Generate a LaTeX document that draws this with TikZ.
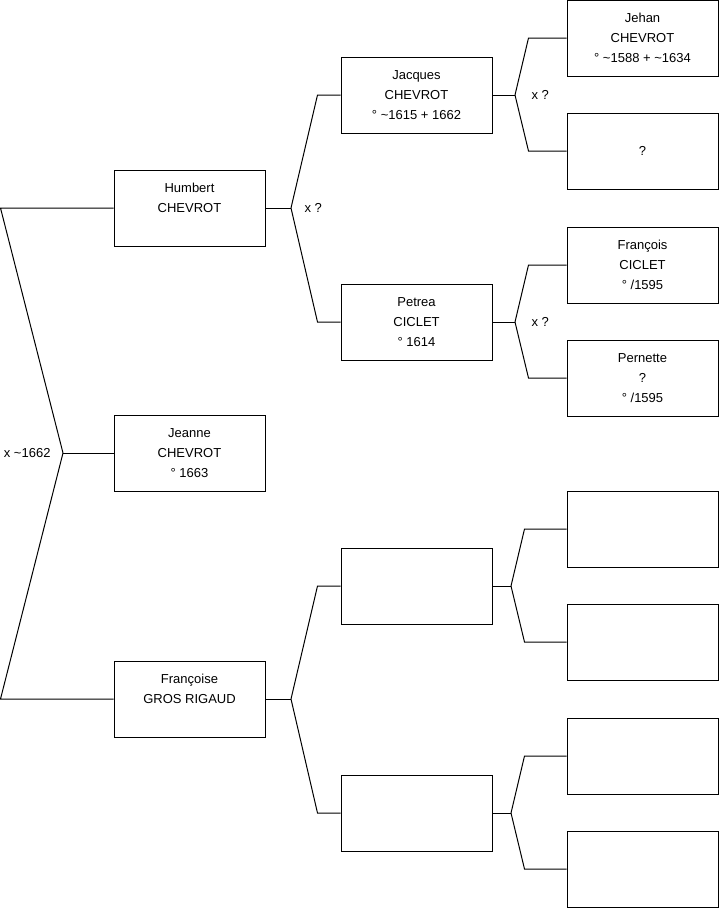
\documentclass[tikz,border=0pt]{standalone}
\usepackage{fontspec}
\setmainfont{Liberation Sans}
\usetikzlibrary{positioning}

\begin{document}
\begin{tikzpicture}[x=1pt, y=-1pt, line width=1pt]
  \tikzstyle{person}=[draw, rectangle, minimum width=151pt, minimum height=76pt, align=center, inner sep=0pt, font=\fontsize{13}{20}\selectfont]
  \tikzstyle{union}=[inner sep=0pt, font=\fontsize{13}{20}\selectfont]
  \useasboundingbox (0,0) rectangle (719,908);
  % generation 1
  \node[person] (humbert) at (189.5,208) {Humbert\\CHEVROT\\\mbox{}};
  \node[person] (jeanne) at (189.5,453) {Jeanne\\CHEVROT\\° 1663};
  \node[person] (francoise) at (189.5,699) {Françoise\\GROS RIGAUD\\\mbox{}};
  % generation 2
  \node[person] (jacques) at (416.5,95) {Jacques\\CHEVROT\\° \textasciitilde1615 + 1662};
  \node[person] (petrea) at (416.5,322) {Petrea\\CICLET\\° 1614};
  \node[person] (mother1) at (416.5,586) {};
  \node[person] (mother2) at (416.5,813) {};
  % generation 3
  \node[person] (jehan) at (642.5,38) {Jehan\\CHEVROT\\° \textasciitilde1588 + \textasciitilde1634};
  \node[person] (unknown) at (642.5,151) {?};
  \node[person] (francois) at (642.5,265) {François\\CICLET\\° /1595};
  \node[person] (pernette) at (642.5,378) {Pernette\\?\\° /1595};
  \node[person] (gp1) at (642.5,529) {};
  \node[person] (gp2) at (642.5,642) {};
  \node[person] (gp3) at (642.5,756) {};
  \node[person] (gp4) at (642.5,869) {};
  % forks
  \coordinate (root) at (63,453);
  \coordinate (fh) at (291,208);
  \coordinate (ff) at (291,699);
  \coordinate (fj) at (515,95);
  \coordinate (fp) at (515,322);
  \coordinate (fm1) at (511,586);
  \coordinate (fm2) at (511,813);
  \draw (humbert.west) -- ++(-113,0) -- (root);
  \draw (francoise.west) -- ++(-113,0) -- (root);
  \draw (jeanne) -- (root);
  \draw (humbert) -- (fh);
  \draw (jacques.west) -- ++(-23,0) -- (fh);
  \draw (petrea.west) -- ++(-23,0) -- (fh);
  \draw (francoise) -- (ff);
  \draw (mother1.west) -- ++(-23,0) -- (ff);
  \draw (mother2.west) -- ++(-23,0) -- (ff);
  \draw (jacques) -- (fj);
  \draw (jehan.west) -- ++(-38,0) -- (fj);
  \draw (unknown.west) -- ++(-38,0) -- (fj);
  \draw (petrea) -- (fp);
  \draw (francois.west) -- ++(-38,0) -- (fp);
  \draw (pernette.west) -- ++(-38,0) -- (fp);
  \draw (mother1) -- (fm1);
  \draw (gp1.west) -- ++(-42,0) -- (fm1);
  \draw (gp2.west) -- ++(-42,0) -- (fm1);
  \draw (mother2) -- (fm2);
  \draw (gp3.west) -- ++(-42,0) -- (fm2);
  \draw (gp4.west) -- ++(-42,0) -- (fm2);
  % unions
  \node[union, left=12pt of root] (u0) {x \textasciitilde1662};
  \node[union, right=13pt of fh] (u1) {x ?};
  \node[union, right=16pt of fj] (u2) {x ?};
  \node[union, right=16pt of fp] (u3) {x ?};
\end{tikzpicture}
\end{document}
